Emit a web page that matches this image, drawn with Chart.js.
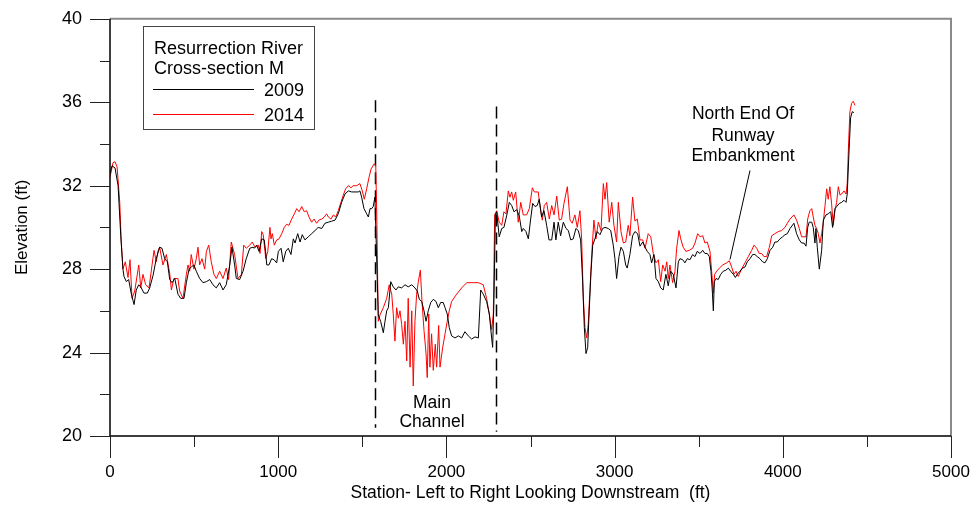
<!DOCTYPE html>
<html>
<head>
<meta charset="UTF-8">
<title>Resurrection River Cross-section M</title>
<script src="https://cdn.jsdelivr.net/npm/chart.js"></script>
<style>
  html, body { margin: 0; padding: 0; background: #fff; }
  #wrap { width: 976px; height: 514px; }
</style>
</head>
<body>
<div id="wrap"><canvas id="xsection" width="976" height="514"></canvas></div>
<script>
// ---- survey data (station ft, elevation ft) ----
const station2009 = [
  0,12,30,48,64,77,83,97,111,127,
  143,156,171,186,202,222,236,256,275,295,
  309,325,341,355,369,385,404,420,440,454,
  470,483,499,513,533,553,573,593,612,632,
  652,672,691,712,725,741,751,771,791,810,
  831,850,858,872,886,902,917,925,932,945,
  961,975,991,1001,1017,1030,1045,1060,1076,1090,
  1100,1116,1130,1143,1159,1179,1199,1219,1238,1259,
  1278,1298,1318,1338,1357,1377,1397,1417,1437,1457,
  1476,1486,1496,1510,1526,1536,1546,1556,1565,1575,
  1595,1609,1625,1635,1645,1655,1669,1684,1700,1714,
  1734,1754,1773,1794,1813,1827,1839,1853,1867,1879,
  1892,1907,1922,1938,1952,1966,1981,1992,2005,2017,
  2031,2051,2071,2091,2110,2130,2150,2170,2190,2204,
  2219,2239,2255,2269,2275,2283,2291,2299,2314,2329,
  2342,2358,2374,2388,2402,2418,2433,2448,2457,2473,
  2487,2501,2513,2527,2540,2552,2566,2580,2596,2610,
  2626,2640,2651,2665,2679,2695,2711,2725,2739,2754,
  2770,2784,2798,2810,2820,2830,2840,2849,2860,2870,
  2883,2897,2913,2929,2943,2962,2977,2992,3002,3012,
  3026,3038,3052,3066,3075,3091,3107,3121,3137,3151,
  3167,3181,3194,3210,3220,3234,3246,3260,3274,3289,
  3305,3319,3333,3349,3365,3379,3389,3405,3418,3432,
  3448,3464,3478,3491,3508,3524,3537,3551,3563,3573,
  3581,3587,3593,3603,3616,3631,3646,3662,3676,3690,
  3706,3718,3729,3745,3761,3775,3789,3805,3821,3834,
  3848,3864,3880,3894,3908,3924,3940,3953,3967,3983,
  3999,4013,4027,4043,4066,4082,4098,4112,4126,4138,
  4148,4157,4172,4181,4191,4197,4205,4217,4231,4241,
  4257,4270,4285,4296,4310,4320,4336,4350,4364,4376,
  4383,4393,4403,4413,4423
];
const elev2009 = [
  32.6,32.95,32.85,32.0,29.6,28.0,27.65,27.4,27.5,26.8,
  26.3,27.0,27.25,27.1,26.85,26.85,27.1,27.7,28.5,29.05,
  29.0,28.5,28.35,27.5,27.35,27.55,26.8,26.6,26.6,27.35,
  28.0,28.1,28.2,27.9,27.55,27.35,27.4,27.5,27.25,27.1,
  27.35,27.0,27.25,28.2,29.05,28.2,27.55,27.5,27.9,28.5,
  29.0,29.05,29.0,29.15,28.85,29.45,29.4,28.85,28.2,28.2,
  28.5,28.45,28.3,28.85,29.0,28.35,28.85,29.0,28.7,29.45,
  29.25,29.7,29.3,29.65,29.4,29.55,29.7,29.85,30.0,29.95,
  30.2,30.25,30.3,30.35,30.65,31.2,31.6,31.75,31.7,31.7,
  31.7,31.75,31.45,30.9,30.65,30.5,30.9,30.9,31.0,31.45,
  25.8,25.5,24.95,25.5,26.0,26.15,27.4,27.15,27.0,27.15,
  27.1,27.25,27.15,27.25,27.1,26.95,26.55,26.45,26.0,25.5,
  26.0,26.4,26.55,26.45,26.15,26.4,26.4,26.15,25.85,25.2,
  24.8,24.7,24.8,24.7,25.0,24.8,24.65,24.75,24.7,27.0,
  26.8,26.45,25.85,24.7,24.25,26.6,30.6,30.75,29.55,29.95,
  30.0,30.55,31.2,31.05,30.75,30.85,30.55,29.8,29.95,29.8,
  29.45,30.4,31.15,31.0,31.05,31.35,30.5,30.8,30.1,29.4,
  29.4,30.25,29.4,30.25,29.6,30.25,29.95,29.85,29.4,29.45,
  29.95,29.85,29.4,27.4,25.2,23.95,24.25,26.0,27.9,29.15,
  29.45,29.8,29.65,29.95,30.0,29.95,29.85,29.15,28.5,27.55,
  28.6,29.05,28.85,28.2,28.05,28.7,29.6,29.8,29.7,29.1,
  29.3,29.05,28.85,28.7,28.3,28.7,27.55,27.4,27.1,27.0,
  27.75,27.2,27.9,27.75,27.1,28.35,28.5,28.45,28.3,28.5,
  28.45,28.7,28.6,28.85,28.75,28.9,28.75,28.75,28.6,27.9,
  26.95,26.0,27.4,27.55,27.5,27.75,27.9,27.95,28.05,27.9,
  27.75,27.6,27.75,27.9,28.05,28.1,28.35,28.5,28.7,28.7,
  28.6,28.5,28.35,28.3,28.5,28.9,29.05,29.3,29.3,29.45,
  29.55,29.65,29.7,29.95,30.2,29.7,29.4,29.25,29.25,29.1,
  30.0,30.25,30.25,30.0,29.25,29.95,29.05,28.0,28.9,30.35,
  30.6,30.65,30.75,30.0,30.9,31.0,31.15,31.2,31.3,31.2,
  31.6,33.5,35.25,35.55,35.5
];

const station2014 = [
  0,18,30,42,58,67,77,91,107,119,
  131,147,171,183,196,212,232,250,262,275,
  285,295,315,335,355,365,380,404,414,434,
  454,464,474,483,499,513,523,533,547,563,
  573,587,602,618,632,652,672,691,705,721,
  741,761,781,795,810,831,846,862,882,892,
  902,911,926,938,951,957,965,977,991,1005,
  1021,1036,1050,1064,1080,1096,1110,1124,1140,1155,
  1169,1183,1199,1213,1229,1242,1259,1274,1288,1298,
  1314,1328,1342,1357,1373,1387,1401,1417,1433,1446,
  1467,1486,1500,1512,1526,1540,1552,1571,1580,1586,
  1595,1605,1625,1645,1660,1675,1684,1694,1704,1714,
  1724,1734,1744,1754,1764,1773,1784,1794,1803,1813,
  1823,1833,1845,1855,1867,1879,1886,1895,1902,1912,
  1922,1934,1942,1954,1962,1978,1992,2005,2017,2031,
  2061,2091,2121,2160,2190,2219,2239,2255,2269,2279,
  2287,2299,2314,2329,2342,2354,2368,2378,2388,2398,
  2412,2427,2442,2457,2477,2493,2511,2523,2546,2556,
  2570,2582,2596,2612,2626,2640,2656,2671,2685,2699,
  2719,2735,2748,2764,2778,2794,2804,2814,2824,2834,
  2843,2854,2864,2877,2889,2903,2919,2933,2943,2953,
  2968,2983,2996,3012,3022,3038,3052,3066,3081,3091,
  3107,3121,3135,3151,3167,3181,3200,3215,3230,3246,
  3260,3274,3286,3300,3310,3319,3329,3345,3359,3369,
  3383,3393,3408,3424,3444,3464,3478,3494,3508,3524,
  3537,3551,3567,3577,3587,3595,3607,3623,3643,3666,
  3682,3696,3710,3722,3735,3755,3775,3795,3815,3829,
  3845,3860,3874,3888,3904,3920,3934,3953,3973,3993,
  4013,4027,4043,4066,4082,4098,4112,4138,4148,4161,
  4172,4181,4191,4201,4211,4221,4231,4241,4251,4261,
  4270,4280,4290,4300,4310,4320,4330,4340,4350,4364,
  4376,4383,4391,4399,4409,4419,4429
];
const elev2014 = [
  32.4,33.1,33.15,32.9,31.2,29.3,28.0,28.35,27.6,28.45,
  26.6,26.95,28.2,27.1,27.75,27.25,27.1,28.2,28.9,28.35,
  28.85,29.05,28.2,28.7,27.8,27.0,27.55,27.55,26.95,26.6,
  27.75,28.2,27.9,28.7,28.0,28.5,29.05,28.2,28.5,28.0,
  28.85,29.15,28.35,27.75,27.55,27.9,27.55,28.05,27.5,29.3,
  28.7,27.55,27.75,29.15,29.0,29.15,29.3,29.05,29.15,28.75,
  29.8,29.65,28.5,28.85,30.0,29.45,29.7,29.15,29.4,29.45,
  29.7,30.0,30.15,30.1,30.4,30.65,30.9,30.75,31.0,30.75,
  30.8,30.5,30.25,30.4,30.2,30.35,30.4,30.5,30.65,30.5,
  30.4,30.6,30.5,30.8,31.2,31.55,31.85,32.0,31.9,32.0,
  32.0,32.1,31.75,31.35,31.85,32.4,32.8,33.05,32.95,30.6,
  25.5,25.8,26.15,26.6,27.25,26.8,25.85,24.55,26.15,25.65,
  26.0,25.35,24.4,25.5,23.6,26.6,23.3,26.0,22.4,25.5,
  26.8,27.4,27.95,26.45,25.05,23.95,22.8,25.85,23.3,24.9,
  23.15,24.4,23.3,25.3,23.3,24.25,24.9,25.5,26.0,26.45,
  26.8,27.1,27.35,27.35,27.35,27.25,26.6,25.85,25.1,25.85,
  30.6,30.8,30.25,30.1,30.75,30.65,31.75,31.45,31.7,31.3,
  31.7,30.25,31.2,30.6,30.6,30.9,31.9,31.7,31.7,31.05,
  30.35,31.05,31.2,30.4,31.05,30.6,31.5,30.35,30.4,31.15,
  31.95,30.35,30.2,30.6,30.0,30.8,29.45,26.6,25.2,24.7,
  25.35,27.1,28.7,30.35,29.45,30.25,29.85,32.1,31.35,32.15,
  30.25,31.2,30.1,29.3,31.2,29.8,29.25,29.3,30.1,29.6,
  31.45,30.3,30.4,29.4,29.4,29.0,29.7,29.55,28.75,28.3,
  28.45,27.4,28.2,27.9,28.35,27.55,28.2,27.35,27.9,29.0,
  29.85,29.45,29.05,28.85,28.9,29.0,29.25,29.7,29.55,29.6,
  29.25,29.3,28.85,27.9,26.85,27.75,27.9,28.05,28.2,28.3,
  28.4,28.1,27.75,27.9,27.65,28.0,28.3,28.6,28.9,29.15,
  29.0,28.75,28.75,28.6,28.6,29.05,29.6,29.7,29.8,29.85,
  30.0,30.2,30.4,30.6,30.35,29.95,29.55,29.55,30.4,30.8,
  30.9,30.5,30.1,29.95,29.7,29.25,29.7,30.25,31.05,31.85,
  31.35,31.95,31.15,30.1,30.8,31.2,31.95,31.55,31.6,31.75,
  31.6,32.1,34.0,35.55,35.95,36.05,35.85
];

// main channel limits (station, top elevation, bottom elevation)
const channelStations = [1575, 2295];
const channelTops = [36.1, 35.8];
const channelBottoms = [20.4, 20.2];
// leader for the runway note: [station, elevation] start and end
const runwayLeader = [[3805, 32.73], [3686, 28.46]];

const xTicks = [0, 1000, 2000, 3000, 4000, 5000];
const yTicks = [20, 24, 28, 32, 36, 40];

const FONT = '"Liberation Sans", Arial, Helvetica, sans-serif';
Chart.defaults.font.family = FONT;
Chart.defaults.color = '#000';

function toPoints(xs, ys) {
  return xs.map((x, i) => ({ x: x, y: ys[i] }));
}

// frame, tick marks, legend box and notes
const decorations = {
  id: 'decorations',
  beforeDatasetsDraw(chart) {
    const ctx = chart.ctx, xs = chart.scales.x, ys = chart.scales.y;
    ctx.save();
    ctx.strokeStyle = '#000';
    ctx.lineWidth = 1.5;
    ctx.setLineDash([12, 6]);
    channelStations.forEach((s, i) => {
      const px = Math.round(xs.getPixelForValue(s)) + 0.5;
      ctx.beginPath();
      ctx.moveTo(px, ys.getPixelForValue(channelTops[i]));
      ctx.lineTo(px, ys.getPixelForValue(channelBottoms[i]));
      ctx.stroke();
    });
    ctx.restore();
  },
  afterDraw(chart) {
    const ctx = chart.ctx, a = chart.chartArea;
    const xs = chart.scales.x, ys = chart.scales.y;
    ctx.save();

    // top / right frame in grey
    ctx.strokeStyle = '#8a8a8a';
    ctx.lineWidth = 2;
    ctx.beginPath();
    ctx.moveTo(a.left, a.top);
    ctx.lineTo(a.right, a.top);
    ctx.lineTo(a.right, a.bottom);
    ctx.stroke();

    // axes in black
    ctx.strokeStyle = '#000';
    ctx.lineWidth = 1.5;
    ctx.beginPath();
    ctx.moveTo(a.left, a.top);
    ctx.lineTo(a.left, a.bottom);
    ctx.lineTo(a.right, a.bottom);
    ctx.stroke();

    // tick marks: major + minor
    ctx.strokeStyle = '#222';
    ctx.lineWidth = 1;
    for (let v = 0; v <= 5000; v += 500) {
      const px = Math.round(xs.getPixelForValue(v)) + 0.5;
      const len = v % 1000 === 0 ? 22 : 11;
      ctx.beginPath();
      ctx.moveTo(px, a.bottom);
      ctx.lineTo(px, a.bottom + len);
      ctx.stroke();
    }
    for (let v = 20; v <= 40; v += 2) {
      const py = Math.round(ys.getPixelForValue(v)) + 0.5;
      const len = v % 4 === 0 ? 20 : 10;
      ctx.beginPath();
      ctx.moveTo(a.left - len, py);
      ctx.lineTo(a.left, py);
      ctx.stroke();
    }

    // legend box
    ctx.strokeStyle = '#444';
    ctx.lineWidth = 1;
    ctx.strokeRect(143.5, 26.5, 171, 103);
    ctx.fillStyle = '#000';
    ctx.font = '18px ' + FONT;
    ctx.textAlign = 'left';
    ctx.textBaseline = 'alphabetic';
    ctx.fillText('Resurrection River', 154, 54);
    ctx.fillText('Cross-section M', 154, 74);
    ctx.textAlign = 'right';
    ctx.fillText('2009', 304, 96);
    ctx.fillText('2014', 304, 121);
    ctx.lineWidth = 1;
    ctx.strokeStyle = '#000';
    ctx.beginPath(); ctx.moveTo(153, 89.5); ctx.lineTo(254, 89.5); ctx.stroke();
    ctx.strokeStyle = '#ff0000';
    ctx.beginPath(); ctx.moveTo(153, 114.5); ctx.lineTo(254, 114.5); ctx.stroke();

    // notes
    ctx.fillStyle = '#000';
    ctx.font = '17.5px ' + FONT;
    ctx.textAlign = 'center';
    ctx.fillText('Main', 432, 408);
    ctx.fillText('Channel', 432, 427);
    ctx.fillText('North End Of', 743, 119);
    ctx.fillText('Runway', 743, 141);
    ctx.fillText('Embankment', 743, 161);

    ctx.strokeStyle = '#000';
    ctx.lineWidth = 1;
    ctx.beginPath();
    ctx.moveTo(xs.getPixelForValue(runwayLeader[0][0]), ys.getPixelForValue(runwayLeader[0][1]));
    ctx.lineTo(xs.getPixelForValue(runwayLeader[1][0]), ys.getPixelForValue(runwayLeader[1][1]));
    ctx.stroke();

    ctx.restore();
  }
};

new Chart(document.getElementById('xsection'), {
  type: 'line',
  data: {
    datasets: [
      {
        label: '2009',
        data: toPoints(station2009, elev2009),
        borderColor: '#000000',
        borderWidth: 1,
        pointRadius: 0,
        tension: 0
      },
      {
        label: '2014',
        data: toPoints(station2014, elev2014),
        borderColor: '#ff0000',
        borderWidth: 1,
        pointRadius: 0,
        tension: 0
      }
    ]
  },
  options: {
    responsive: false,
    animation: false,
    layout: { padding: { left: 0, right: 25, top: 15, bottom: 0 } },
    plugins: {
      legend: { display: false },
      tooltip: { enabled: false }
    },
    scales: {
      x: {
        type: 'linear',
        min: 0,
        max: 5000,
        afterBuildTicks: s => { s.ticks = xTicks.map(v => ({ value: v })); },
        afterFit: s => { s.height = 78; },
        grid: { display: true, drawOnChartArea: false, drawTicks: true, tickLength: 22, color: 'transparent' },
        border: { display: false },
        ticks: {
          font: { size: 17 }, padding: 4, maxRotation: 0, autoSkip: false, color: '#000',
          callback: v => String(v)
        },
        title: {
          display: true,
          text: 'Station- Left to Right Looking Downstream  (ft)',
          font: { size: 17.5 },
          padding: { top: 0, bottom: 10 },
          color: '#000'
        }
      },
      y: {
        type: 'linear',
        min: 20,
        max: 40,
        afterBuildTicks: s => { s.ticks = yTicks.map(v => ({ value: v })); },
        afterFit: s => { s.width = 110; },
        grid: { display: true, drawOnChartArea: false, drawTicks: true, tickLength: 20, color: 'transparent' },
        border: { display: false },
        ticks: { font: { size: 18 }, padding: 8, color: '#000', callback: v => String(v) },
        title: {
          display: true,
          text: 'Elevation (ft)',
          font: { size: 17 },
          padding: { top: 12, bottom: 0 },
          color: '#000'
        }
      }
    }
  },
  plugins: [decorations]
});
</script>
</body>
</html>
